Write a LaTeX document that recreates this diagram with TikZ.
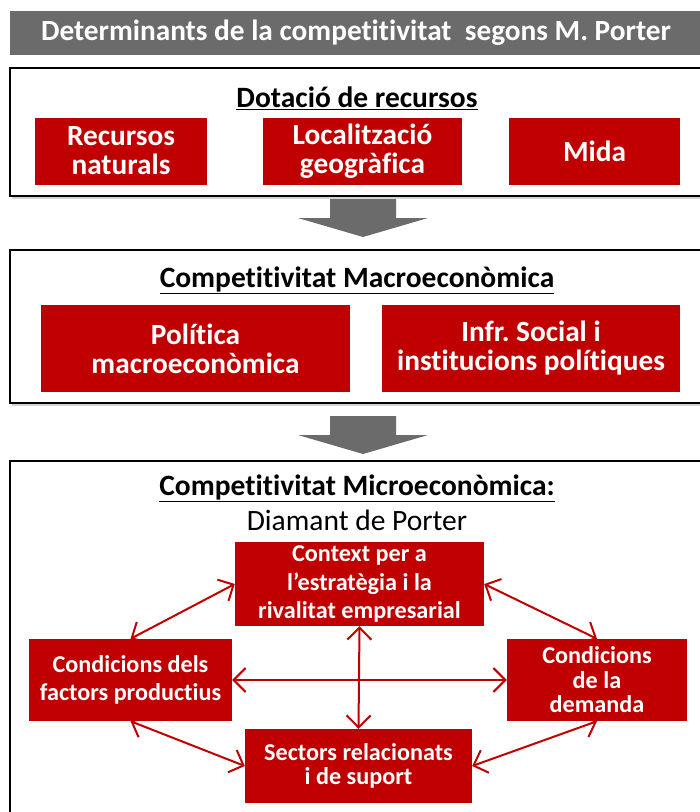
\documentclass[tikz,border=0pt]{standalone}
\usepackage{fontspec}
\setmainfont{Carlito}[Ligatures=NoCommon]
\usetikzlibrary{arrows.meta,shadows}
\frenchspacing
\definecolor{porterred}{HTML}{C00000}
\definecolor{bargray}{HTML}{6B6B6B}
\tikzset{
  panel/.style={draw=black, line width=1.6pt, fill=white, drop shadow={opacity=0.35, shadow xshift=2pt, shadow yshift=-3pt}},
  redbox/.style={fill=porterred, text=white, font=\bfseries\fontsize{29.3}{29}\selectfont, align=center, inner sep=0pt},
  diabox/.style={fill=porterred, text=white, font=\bfseries\fontsize{24.2}{28.5}\selectfont, align=center, inner sep=0pt},
  heading/.style={font=\bfseries\fontsize{29.5}{30}\selectfont, inner sep=0pt},
  blockarrow/.style={fill=bargray, draw=none},
  link/.style={draw=porterred, line width=2pt, {Straight Barb[length=12pt,width=24pt]}-{Straight Barb[length=12pt,width=24pt]}}
}
\begin{document}
\begin{tikzpicture}[x=1pt,y=-1pt]
\useasboundingbox (0,0) rectangle (700,812);
% title bar
\fill[bargray] (10,11) rectangle (704,55);
\node[font=\bfseries\fontsize{29.3}{30}\selectfont, text=white, inner sep=0pt] (title) at (356,33) {Determinants de la competitivitat\ \ segons M. Porter};
% panels
\draw[panel] (10,68) rectangle (704,196);
\draw[panel] (10,250) rectangle (704,403);
\draw[panel] (10,461) rectangle (704,830);
% block arrows
\path[blockarrow] (330,199) -- (396,199) -- (396,218) -- (428,218) -- (363,237) -- (298,218) -- (330,218) -- cycle;
\path[blockarrow] (330,416) -- (396,416) -- (396,435) -- (428,435) -- (363,454) -- (298,435) -- (330,435) -- cycle;
% panel 1
\node[heading] (h1) at (357,98) {\underline{Dotació de recursos}};
\node[redbox, minimum width=172pt, minimum height=67pt] (rn) at (121,151) {Recursos\\naturals};
\node[redbox, minimum width=199pt, minimum height=67pt] (lg) at (362.5,151) {Localització\\geogràfica};
\node[redbox, minimum width=171pt, minimum height=67pt] (mida) at (594.5,151) {Mida};
% panel 2
\node[heading] (h2) at (357,280) {\underline{Competitivitat Macroeconòmica}};
\node[redbox, minimum width=309pt, minimum height=87pt] (pm) at (195.5,348.5) {Política\\macroeconòmica};
\node[redbox, minimum width=298pt, minimum height=87pt] (inf) at (531,348.5) {Infr. Social i\\institucions polítiques};
% panel 3
\node[heading] (h3) at (357,488) {\underline{Competitivitat Microeconòmica:}};
\node[font=\fontsize{29.5}{30}\selectfont, inner sep=0pt] (h3b) at (357,520) {Diamant de Porter};
\node[diabox, minimum width=249pt, minimum height=84pt] (ctx) at (359.5,584) {Context per a\\l’estratègia i la\\rivalitat empresarial};
\node[diabox, minimum width=203pt, minimum height=82pt] (fac) at (130.5,680) {Condicions dels\\factors productius};
\node[diabox, minimum width=180pt, minimum height=82pt, font=\bfseries\fontsize{24.2}{24.5}\selectfont] (dem) at (597,680) {Condicions\\de la\\demanda};
\node[diabox, minimum width=227pt, minimum height=74pt, font=\bfseries\fontsize{24.2}{24}\selectfont] (sec) at (358.5,766) {Sectors relacionats\\i de suport};
% links
\draw[link] (ctx.west) -- (fac.north);
\draw[link] (ctx.east) -- (dem.north);
\draw[link] (ctx.south) -- (sec.north);
\draw[link] (fac.east) -- (dem.west);
\draw[link] (fac.south) -- (sec.west);
\draw[link] (dem.south) -- (sec.east);
\end{tikzpicture}
\end{document}
